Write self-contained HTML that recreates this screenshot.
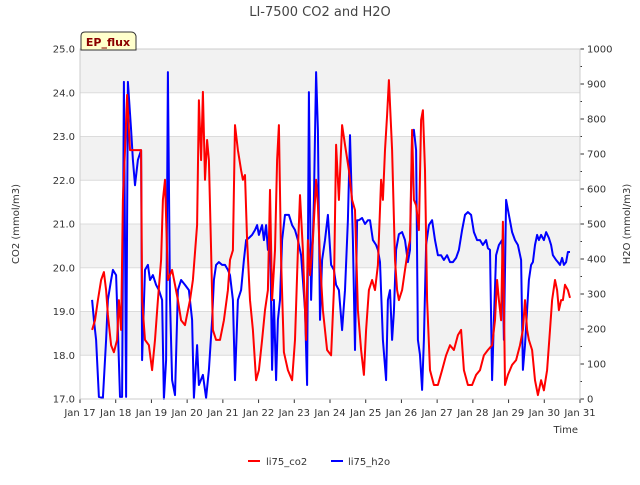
<!DOCTYPE html>
<html><head><meta charset="utf-8"><style>
body{margin:0;background:#fff;font-family:"Liberation Sans","DejaVu Sans",sans-serif}
svg text{font-family:"DejaVu Sans","Liberation Sans",sans-serif}
</style></head><body>
<svg id="chart" width="640" height="480" xmlns="http://www.w3.org/2000/svg"></svg>
<script>
const xTickLabels=["Jan 17","Jan 18","Jan 19","Jan 20","Jan 21","Jan 22","Jan 23","Jan 24","Jan 25","Jan 26","Jan 27","Jan 28","Jan 29","Jan 30","Jan 31"];
const leftTicks=[17,18,19,20,21,22,23,24,25];
const rightTicks=[0,100,200,300,400,500,600,700,800,900,1000];
const co2Days=[0.34,0.42,0.50,0.59,0.67,0.73,0.78,0.87,0.95,1.04,1.09,1.15,1.20,1.26,1.32,1.40,1.71,1.74,1.82,1.93,2.02,2.10,2.18,2.27,2.32,2.38,2.46,2.58,2.66,2.74,2.83,2.94,3.08,3.16,3.28,3.33,3.39,3.44,3.50,3.56,3.61,3.67,3.72,3.81,3.92,4.03,4.14,4.20,4.28,4.34,4.42,4.51,4.56,4.62,4.68,4.76,4.84,4.93,5.01,5.10,5.18,5.26,5.32,5.38,5.46,5.52,5.57,5.63,5.71,5.82,5.94,6.02,6.10,6.16,6.24,6.33,6.38,6.44,6.52,6.61,6.66,6.72,6.80,6.92,7.03,7.11,7.17,7.25,7.34,7.42,7.53,7.62,7.70,7.78,7.87,7.95,8.01,8.09,8.18,8.26,8.34,8.43,8.48,8.54,8.60,8.65,8.74,8.82,8.88,8.93,9.02,9.10,9.18,9.24,9.30,9.35,9.41,9.49,9.55,9.60,9.66,9.72,9.80,9.91,10.02,10.14,10.25,10.36,10.47,10.58,10.67,10.75,10.86,10.98,11.09,11.20,11.31,11.42,11.54,11.62,11.68,11.73,11.79,11.84,11.90,11.98,12.10,12.21,12.32,12.40,12.46,12.52,12.57,12.66,12.74,12.82,12.91,12.99,13.08,13.16,13.22,13.30,13.36,13.41,13.47,13.52,13.58,13.66,13.72];
const co2Values=[18.58,18.80,19.26,19.72,19.90,19.49,18.92,18.23,18.07,18.35,19.26,18.58,21.55,22.69,23.95,22.69,22.69,19.26,18.35,18.23,17.66,18.35,19.26,20.18,21.55,22.01,19.72,19.95,19.61,19.26,18.80,18.69,19.26,19.72,20.98,23.83,22.46,24.02,22.01,22.92,22.46,20.40,18.58,18.35,18.35,18.80,19.49,20.18,20.40,23.26,22.69,22.23,22.01,22.12,20.63,19.26,18.58,17.43,17.66,18.35,19.03,19.49,21.78,19.26,20.40,22.46,23.26,20.18,18.07,17.66,17.43,18.35,20.40,21.66,20.40,18.35,20.63,19.83,20.63,22.01,21.43,20.18,19.03,18.12,18.00,19.49,22.81,21.55,23.26,22.81,22.23,21.55,21.32,19.03,18.12,17.55,18.58,19.49,19.72,19.49,20.06,22.01,21.55,22.69,23.49,24.29,22.69,20.18,19.49,19.26,19.49,19.95,20.40,20.63,23.15,21.55,21.43,20.86,23.38,23.60,22.23,19.26,17.66,17.32,17.32,17.66,18.00,18.23,18.12,18.46,18.58,17.66,17.32,17.32,17.55,17.66,18.00,18.12,18.23,18.80,19.72,19.26,18.80,21.05,17.32,17.55,17.78,17.89,18.23,18.58,19.26,18.58,18.35,18.12,17.43,17.09,17.43,17.20,17.66,18.58,19.26,19.72,19.49,19.03,19.26,19.26,19.61,19.49,19.31];
const h2oDays=[0.34,0.39,0.45,0.53,0.64,0.73,0.78,0.87,0.92,1.01,1.06,1.12,1.18,1.23,1.29,1.34,1.43,1.48,1.54,1.62,1.71,1.74,1.82,1.90,1.96,2.04,2.13,2.21,2.30,2.35,2.41,2.46,2.52,2.58,2.66,2.74,2.83,2.94,3.05,3.14,3.19,3.28,3.33,3.44,3.53,3.61,3.70,3.75,3.81,3.89,3.98,4.06,4.14,4.20,4.28,4.34,4.42,4.51,4.59,4.65,4.73,4.82,4.90,4.96,5.01,5.10,5.15,5.21,5.26,5.32,5.38,5.43,5.49,5.54,5.60,5.66,5.74,5.85,5.94,6.02,6.10,6.19,6.24,6.30,6.36,6.41,6.47,6.55,6.61,6.66,6.72,6.78,6.86,6.94,7.03,7.11,7.17,7.25,7.34,7.42,7.50,7.56,7.64,7.70,7.76,7.81,7.90,7.98,8.06,8.12,8.20,8.29,8.34,8.40,8.48,8.57,8.62,8.68,8.74,8.79,8.85,8.93,9.02,9.10,9.18,9.24,9.30,9.35,9.41,9.46,9.52,9.58,9.63,9.69,9.77,9.86,9.94,10.02,10.11,10.19,10.28,10.36,10.44,10.53,10.61,10.70,10.78,10.86,10.95,11.03,11.12,11.20,11.28,11.37,11.42,11.48,11.54,11.59,11.65,11.73,11.82,11.87,11.93,12.01,12.10,12.18,12.26,12.35,12.40,12.46,12.52,12.57,12.63,12.68,12.74,12.80,12.85,12.91,12.99,13.05,13.13,13.19,13.24,13.33,13.38,13.44,13.50,13.55,13.61,13.66,13.72];
const h2oValues=[283,226,169,6,3,169,283,340,369,354,197,6,6,906,6,906,769,683,611,683,711,111,369,383,340,354,326,311,283,0,111,934,283,54,11,311,340,326,311,226,3,154,40,69,3,83,226,340,383,391,383,383,369,354,283,54,283,311,397,454,460,469,483,497,469,497,454,497,426,497,83,283,54,226,283,454,526,526,497,483,454,411,340,254,40,877,283,569,934,769,226,397,454,526,383,369,326,311,197,311,511,754,454,140,511,511,517,500,511,511,454,440,426,391,169,54,283,311,169,249,426,471,477,454,391,426,746,769,711,169,126,26,169,440,497,511,454,411,411,397,411,391,391,403,426,483,526,534,526,477,454,454,440,454,431,426,54,226,411,440,454,169,569,526,477,454,440,397,83,154,254,340,383,391,440,469,454,469,454,477,460,440,411,397,391,383,403,383,391,420,420];

const NS="http://www.w3.org/2000/svg";
const svg=document.getElementById('chart');
const L=80,R=580,T=49,B=399;
const xs=d=>L+d/14*(R-L);
const yL=v=>B-(v-17)/8*(B-T);
const yR=v=>B-v/1000*(B-T);
function mk(tag,attrs,parent){const e=document.createElementNS(NS,tag);for(const k in attrs)e.setAttribute(k,attrs[k]);(parent||svg).appendChild(e);return e;}
function txt(s,attrs){const e=mk('text',attrs);e.textContent=s;return e;}

const plotBg=mk('rect',{x:L,y:T,width:R-L,height:B-T,fill:'#fff'});


[24,22,20,18].forEach(v=>{const b=mk('rect',{x:L,y:yL(v+1),width:R-L,height:yL(v)-yL(v+1),fill:'#f2f2f2'});

});
leftTicks.forEach(v=>{const g=mk('line',{x1:L,x2:R,y1:yL(v),y2:yL(v),stroke:'#dcdcdc','stroke-width':1});


const t=txt(v.toFixed(1),{x:L-5,y:yL(v)+3.5,'font-size':10,'text-anchor':'end',fill:'#333'});

});
rightTicks.forEach(v=>{mk('line',{x1:R,x2:R+4,y1:yR(v),y2:yR(v),stroke:'#333'});
const t=txt(String(v),{x:R+7,y:yR(v)+3.5,'font-size':10,fill:'#333'});


if(v<1000)mk('line',{x1:R,x2:R+2,y1:yR(v+50),y2:yR(v+50),stroke:'#333'});});
xTickLabels.forEach((s,i)=>{mk('line',{x1:xs(i),x2:xs(i),y1:B,y2:B+4,stroke:'#333'});
const t=txt(s,{x:xs(i),y:B+17,'font-size':10,'text-anchor':'middle',fill:'#333'});

});

function series(days,vals,yf,color,name){const d=days.map((x,i)=>(i?'L':'M')+xs(x).toFixed(1)+','+yf(vals[i]).toFixed(1)).join('');
const p=mk('path',{d:d,fill:'none',stroke:color,'stroke-width':2,'stroke-linejoin':'round'});

}
series(h2oDays,h2oValues,yR,'#0000ff','h2o-line');
series(co2Days,co2Values,yL,'#ff0000','co2-line');

const fr=mk('rect',{x:L,y:T,width:R-L,height:B-T,fill:'none',stroke:'#ccc'});



const title=txt('LI-7500 CO2 and H2O',{x:320,y:16,'font-size':13,'text-anchor':'middle',fill:'#444'});


const yl=txt('CO2 (mmol/m3)',{x:0,y:0,'font-size':10,'text-anchor':'middle',fill:'#333',transform:'translate(19,224) rotate(-90)'});


const yr=txt('H2O (mmol/m3)',{x:0,y:0,'font-size':10,'text-anchor':'middle',fill:'#333',transform:'translate(630,224) rotate(-90)'});


const xt=txt('Time',{x:578,y:433,'font-size':10,'text-anchor':'end',fill:'#333'});



const ep=mk('path',{d:'M81,50 L81,36 Q81,32 85,32 L131,32 Q135,32 136,36 L136,50 Z',fill:'#ffffcc',stroke:'#333'});


const ept=txt('EP_flux',{x:108,y:46,'font-size':11,'font-weight':'bold','text-anchor':'middle',fill:'#8b0000'});



const l1=mk('line',{x1:248,x2:260,y1:461,y2:461,stroke:'#ff0000','stroke-width':2});


const t1=txt('li75_co2',{x:266,y:465,'font-size':10,fill:'#333'});


const l2=mk('line',{x1:331,x2:343,y1:461,y2:461,stroke:'#0000ff','stroke-width':2});


const t2=txt('li75_h2o',{x:348,y:465,'font-size':10,fill:'#333'});


</script>
</body></html>
